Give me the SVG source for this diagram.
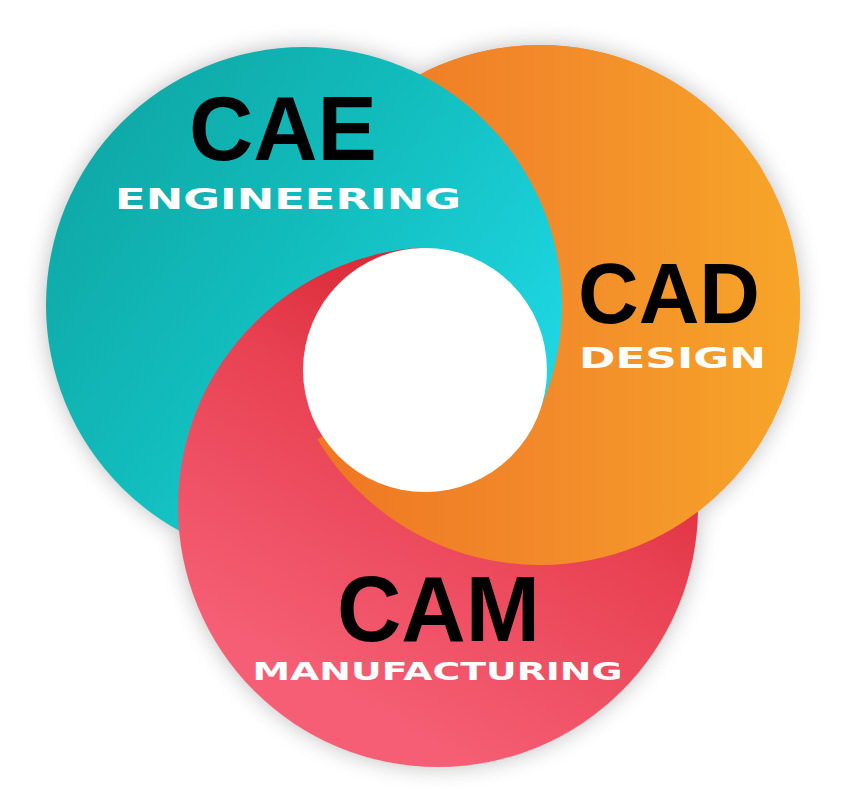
<svg xmlns="http://www.w3.org/2000/svg" xmlns:xlink="http://www.w3.org/1999/xlink" width="850" height="805" viewBox="0 0 850 805">
  <defs>
    <linearGradient id="gTeal" x1="0.1" y1="0.05" x2="0.95" y2="0.65">
      <stop offset="0" stop-color="#0ea6a4"/>
      <stop offset="0.5" stop-color="#12bdbd"/>
      <stop offset="1" stop-color="#1ed6e2"/>
    </linearGradient>
    <linearGradient id="gOrange" x1="0" y1="0" x2="1" y2="0">
      <stop offset="0" stop-color="#ee7420"/>
      <stop offset="0.5" stop-color="#f2892a"/>
      <stop offset="1" stop-color="#f7a629"/>
    </linearGradient>
    <linearGradient id="gRed" x1="0.75" y1="0.05" x2="0.3" y2="0.85">
      <stop offset="0" stop-color="#d21c25"/>
      <stop offset="0.45" stop-color="#e84152"/>
      <stop offset="1" stop-color="#f55e74"/>
    </linearGradient>
    <filter id="outerShadow" x="-20%" y="-20%" width="140%" height="140%">
      <feGaussianBlur stdDeviation="11"/>
    </filter>
    <circle id="cTeal" cx="304" cy="305" r="258" fill="url(#gTeal)"/>
    <circle id="cOrange" cx="540" cy="305" r="260" fill="url(#gOrange)"/>
    <circle id="cRed" cx="438" cy="507" r="260" fill="url(#gRed)"/>
    <clipPath id="clipTO">
      <polygon points="425,370 425,-1000 2000,-1000 2000,2000 -1000,2000 -1000,1289"/>
    </clipPath>
    <clipPath id="clipT">
      <polygon points="425,370 353,-1000 2000,-1000 2000,1207"/>
    </clipPath>
    <style>
      .big { font-family: "Liberation Sans", Arial, sans-serif; font-weight: bold; fill: #000; text-anchor: middle; }
      .sub { font-family: "DejaVu Sans", "Liberation Sans", sans-serif; font-weight: bold; fill: #ffffff; text-anchor: middle; }
    </style>
  </defs>

  <rect x="0" y="0" width="850" height="805" fill="#ffffff"/>

  <g id="shadow" filter="url(#outerShadow)" opacity="0.38" fill="#555">
    <circle cx="304" cy="305" r="258"/>
    <circle cx="540" cy="305" r="260"/>
    <circle cx="438" cy="507" r="260"/>
  </g>

  <g id="node-cad-shape"><use xlink:href="#cOrange"/></g>
  <g id="node-cae-shape"><use xlink:href="#cTeal"/></g>
  <g id="node-cam-shape"><use xlink:href="#cRed"/></g>

  <g id="interlock">
    <use xlink:href="#cOrange" clip-path="url(#clipTO)"/>
    <use xlink:href="#cTeal" clip-path="url(#clipT)"/>
  </g>

  <circle id="hub" cx="425" cy="370" r="122" fill="#ffffff"/>

  <g id="node-cae">
    <text class="big" x="283" y="160" font-size="90" textLength="188" lengthAdjust="spacingAndGlyphs">CAE</text>
    <text class="sub" x="288" y="209" font-size="29" textLength="346" lengthAdjust="spacingAndGlyphs">ENGINEERING</text>
  </g>
  <g id="node-cad">
    <text class="big" x="669" y="323" font-size="85" textLength="182" lengthAdjust="spacingAndGlyphs">CAD</text>
    <text class="sub" x="672.5" y="368" font-size="27.5" textLength="187" lengthAdjust="spacingAndGlyphs">DESIGN</text>
  </g>
  <g id="node-cam">
    <text class="big" x="438.5" y="641" font-size="92" textLength="203" lengthAdjust="spacingAndGlyphs">CAM</text>
    <text class="sub" x="437.5" y="680" font-size="24" textLength="370" lengthAdjust="spacingAndGlyphs">MANUFACTURING</text>
  </g>
</svg>
